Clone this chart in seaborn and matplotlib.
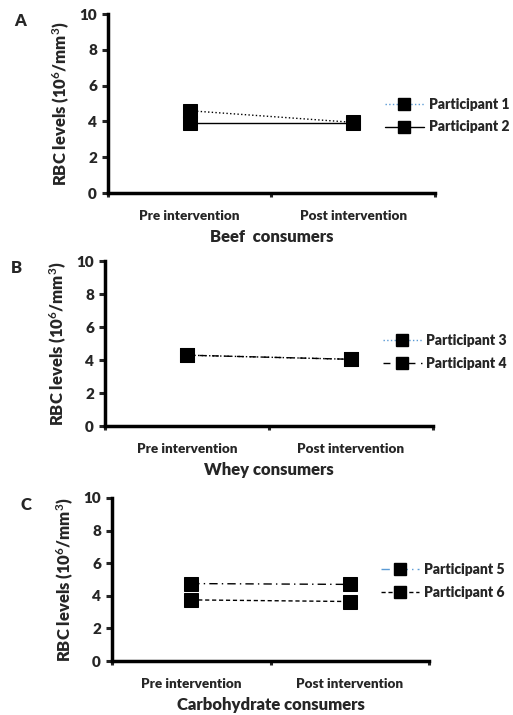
import pandas as pd
import seaborn as sns
import matplotlib.pyplot as plt
from matplotlib import font_manager
from matplotlib.lines import Line2D

# ------------------------------
# Data
# ------------------------------
phases = ["Pre intervention", "Post intervention"]
groups = ["Beef  consumers", "Whey consumers", "Carbohydrate consumers"]
panel_letters = ["A", "B", "C"]

participants = [["Participant 1", "Participant 2"],
                ["Participant 3", "Participant 4"],
                ["Participant 5", "Participant 6"]]

p1 = [4.6, 3.95]
p2 = [3.9, 3.9]
p3 = [4.3, 4.05]
p4 = [4.3, 4.05]
p5 = [4.75, 4.7]
p6 = [3.75, 3.65]
values = [[p1, p2], [p3, p4], [p5, p6]]

# line style per participant and the colour of its legend line
styles = [[(":", "#5b9bd5"), ("-", "black")],
          [(":", "#5b9bd5"), ((0, (5, 4)), "black")],
          [((0, (6, 3, 1, 3)), "#5b9bd5"), ((0, (3, 2)), "black")]]

# ------------------------------
# Style: pick a family that really has a bold face
# ------------------------------
sns.set_style("white")


def weight_num(w):
    if isinstance(w, int):
        return w
    return {"bold": 700, "heavy": 800, "black": 900}.get(w, 400)


bold_families = {f.name for f in font_manager.fontManager.ttflist
                 if weight_num(f.weight) >= 700}
family = "DejaVu Sans"
for cand in ["Lato", "Open Sans", "Roboto", "Liberation Sans"]:
    if cand in bold_families:
        family = cand
        break
W = 800
plt.rcParams["font.family"] = [family, "DejaVu Sans"]
plt.rcParams["font.weight"] = W
plt.rcParams["mathtext.fontset"] = "custom"
plt.rcParams["mathtext.rm"] = family + ":bold"
plt.rcParams["mathtext.bf"] = family + ":bold"
plt.rcParams["mathtext.it"] = family + ":bold"

fig = plt.figure(figsize=(5.13, 7.15), dpi=100)
positions = [[0.2105, 0.730, 0.637, 0.2503],
             [0.2047, 0.404, 0.639, 0.2308],
             [0.2183, 0.0755, 0.618, 0.228]]
legend_y = [0.433, 0.45, 0.49]

for i in range(3):
    ax = fig.add_axes(positions[i])
    handles = []
    for j in range(2):
        df = pd.DataFrame({"phase": phases, "rbc": values[i][j]})
        ls, leg_color = styles[i][j]
        sns.lineplot(data=df, x="phase", y="rbc", ax=ax, color="black",
                     linestyle=ls, linewidth=1.0, marker="s", markersize=10,
                     markeredgecolor="black", sort=False)
        handles.append(Line2D([0], [0], color=leg_color, linestyle=ls, lw=1.0,
                              marker="s", markersize=8, markerfacecolor="black",
                              markeredgecolor="black"))

    ax.set_xlim(-0.5, 1.5)
    ax.set_ylim(0, 10)
    ax.set_yticks([0, 2, 4, 6, 8, 10])
    ax.set_xticks([0, 1])
    ax.set_xticklabels(phases)
    ax.set_xticks([-0.5, 0.5, 1.5], minor=True)
    ax.tick_params(axis="x", which="major", length=0, pad=12, labelsize=9.7)
    ax.tick_params(axis="x", which="minor", length=3, width=2.2, direction="out",
                   bottom=True)
    ax.tick_params(axis="y", length=4, width=2.2, direction="out", left=True,
                   labelsize=11, pad=4)
    for lab in ax.get_xticklabels() + ax.get_yticklabels():
        lab.set_fontweight(W)

    sns.despine(ax=ax)
    for side in ["left", "bottom"]:
        ax.spines[side].set_linewidth(2.5)
        ax.spines[side].set_color("black")

    ax.set_xlabel(groups[i], fontsize=12, fontweight=W, labelpad=5)
    ax.set_ylabel(r"RBC levels (10$^{6}$/mm$^{3}$)", fontsize=12,
                  fontweight=W, labelpad=5)

    ax.text(-0.27, 0.96, panel_letters[i], transform=ax.transAxes,
            fontsize=12, fontweight=W, ha="center", va="center")

    ax.legend(handles=handles, labels=participants[i], frameon=False,
              loc="center left", bbox_to_anchor=(0.847, legend_y[i]),
              borderaxespad=0, borderpad=0, handlelength=2.8,
              handletextpad=0.35, labelspacing=0.7,
              prop={"weight": W, "size": 10})

fig.savefig("out.png", dpi=100)
